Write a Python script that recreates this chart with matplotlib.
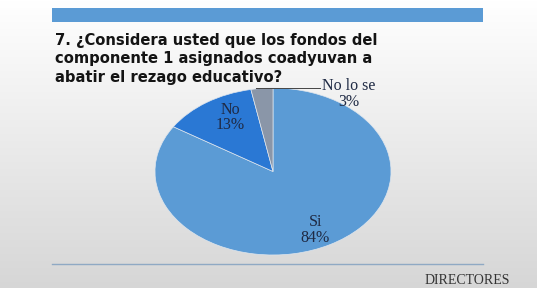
import numpy as np
import matplotlib.pyplot as plt
from matplotlib.patches import Rectangle

# data
labels = ["Si", "No", "No lo se"]
values = [84, 13, 3]
colors = ["#5b9bd5", "#2a78d4", "#8a96a8"]
title_lines = [
    "7. ¿Considera usted que los fondos del",
    "componente 1 asignados coadyuvan a",
    "abatir el rezago educativo?",
]
footer = "DIRECTORES"

W, H = 537, 288
fig = plt.figure(figsize=(W / 100, H / 100), dpi=100)

# background: white fading to light grey at the bottom
bg = fig.add_axes([0, 0, 1, 1])
grad = np.linspace(1.0, 0.84, 256).reshape(-1, 1)
bg.imshow(np.dstack([grad, grad, grad]), aspect="auto", extent=[0, W, H, 0])
bg.set_xlim(0, W)
bg.set_ylim(H, 0)
bg.axis("off")

# top band and bottom rule
bg.add_patch(Rectangle((52, 8), 431, 14, color="#5b9bd5", lw=0))
bg.plot([52, 483], [264, 264], color="#8fa9c4", lw=1)

# title (condensed heavy face, shrink to fit if no condensed face)
for i, line in enumerate(title_lines):
    t = bg.text(55, 45 + i * 18.5, line, fontsize=13.5, fontweight="bold",
                family="DejaVu Sans", fontstretch="condensed", color="#141414",
                va="baseline", ha="left")
fig.canvas.draw()
r = fig.canvas.get_renderer()
first = bg.texts[0]
wpx = first.get_window_extent(r).width
if wpx > 330:
    for t in bg.texts:
        t.set_fontsize(13.5 * 322 / wpx)

bg.text(510, 284, footer, fontsize=10, family="Liberation Serif",
        color="#333333", ha="right", va="baseline")

# pie (stretched, like the original)
ax = fig.add_axes([155 / W, 1 - 255 / H, 236 / W, 167 / H])
wedges, _ = ax.pie(values, colors=colors, startangle=90, counterclock=False,
                   wedgeprops=dict(edgecolor="#dfe6ee", linewidth=0.5))
ax.set_aspect("auto")
ax.set_xlim(-1, 1)
ax.set_ylim(-1, 1)

lab_kw = dict(fontsize=11.5, family="Liberation Serif", color="#1f2a44",
              ha="center", va="center", linespacing=0.95)
ax.text(0.36, -0.70, f"{labels[0]}\n{values[0]}%", **lab_kw)
ax.text(-0.36, 0.65, f"{labels[1]}\n{values[1]}%", **lab_kw)
ax.text(0.64, 0.93, f"{labels[2]}\n{values[2]}%", **lab_kw)
ax.plot([-0.14, 0.40], [1.0, 1.0], color="#444444", lw=0.7, clip_on=False)

fig.savefig("out.png", dpi=100)
